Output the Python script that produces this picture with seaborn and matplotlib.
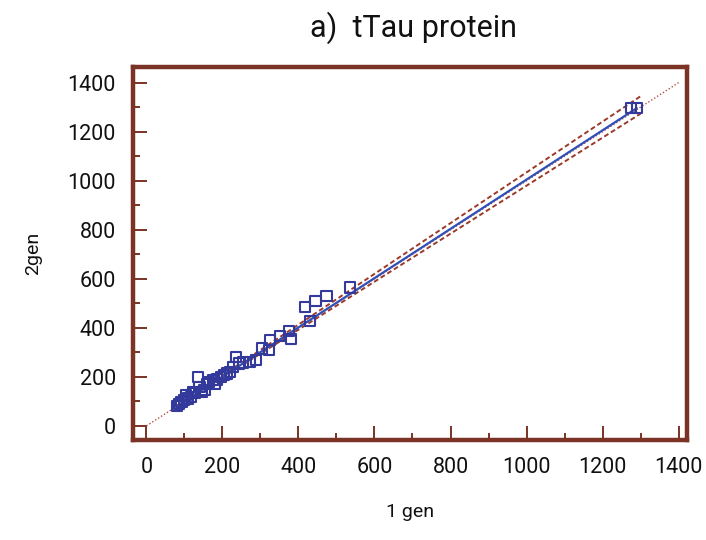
import numpy as np
import pandas as pd
import matplotlib
matplotlib.use("Agg")
import matplotlib.pyplot as plt
from matplotlib.ticker import MultipleLocator
import seaborn as sns

# ---- data ----
gen1 = [80, 85, 92, 98, 105, 110, 118, 123, 127, 136, 140, 145, 153, 160, 165,
        175, 180, 186, 197, 205, 212, 219, 228, 235, 244, 255, 272, 289, 305,
        323, 326, 351, 375, 381, 417, 430, 445, 474, 535, 1274, 1290]
gen2 = [82, 88, 98, 105, 125, 112, 118, 139, 135, 200, 159, 139, 146, 170, 180,
        187, 173, 189, 200, 207, 214, 220, 241, 282, 255, 258, 261, 268, 316,
        309, 350, 366, 388, 354, 486, 427, 510, 529, 565, 1296, 1296]

# fitted lines: name, intercept, slope, x start, x end
line_names = ["fit", "upper", "lower", "identity"]
line_intercepts = [-0.4, -1.0, 0.8, 0.0]
line_slopes = [1.005, 1.035, 0.979, 1.0]
line_x0 = [80, 80, 80, 0]
line_x1 = [1290, 1300, 1300, 1400]

x_ticks = [0, 200, 400, 600, 800, 1000, 1200, 1400]
y_ticks = [0, 200, 400, 600, 800, 1000, 1200, 1400]

# ---- figure ----
sns.set_theme(style="white")
plt.rcParams["font.family"] = ["Roboto", "DejaVu Sans"]

fig = plt.figure(figsize=(7.06, 5.40), dpi=100)
ax = fig.add_axes([0.188, 0.185, 0.785, 0.691])

brown = "#7a3324"
navy = "#343a9c"

pts = pd.DataFrame({"1 gen": gen1, "2gen": gen2})

rows = []
for n, b0, b1, a, z in zip(line_names, line_intercepts, line_slopes, line_x0, line_x1):
    for xv in (a, z):
        rows.append({"line": n, "x": xv, "y": b0 + b1 * xv})
lines = pd.DataFrame(rows)

styles = {
    "identity": dict(color="#b0503a", lw=1.0, ls=(0, (1, 1.5))),
    "upper": dict(color="#9c3a28", lw=1.4, ls=(0, (2.5, 1.5))),
    "lower": dict(color="#9c3a28", lw=1.4, ls=(0, (2.5, 1.5))),
    "fit": dict(color="#3050b8", lw=1.6, ls="-"),
}
for n in ["identity", "upper", "lower", "fit"]:
    d = lines[lines["line"] == n]
    st = styles[n]
    sns.lineplot(data=d, x="x", y="y", ax=ax, color=st["color"], lw=st["lw"],
                 linestyle=st["ls"], sort=False, legend=False, zorder=2)

sns.scatterplot(data=pts, x="1 gen", y="2gen", ax=ax, marker="s", s=55,
                facecolor="none", edgecolor=navy, linewidth=1.5, zorder=3)

ax.set_xlim(-36, 1422)
ax.set_ylim(-58, 1464)
ax.set_xticks(x_ticks)
ax.set_yticks(y_ticks)
ax.set_xticklabels([str(v) for v in x_ticks])
ax.set_yticklabels([str(v) for v in y_ticks])
ax.xaxis.set_minor_locator(MultipleLocator(100))
ax.yaxis.set_minor_locator(MultipleLocator(100))

ax.tick_params(axis="both", which="major", direction="in", length=10, width=1.4,
               color=brown, labelsize=15.5, labelcolor="#111111",
               bottom=True, left=True, top=False, right=False)
ax.tick_params(axis="both", which="minor", direction="in", length=5, width=1.4,
               color=brown, bottom=True, left=True, top=False, right=False)
ax.tick_params(axis="x", which="major", pad=12)
ax.tick_params(axis="y", which="major", pad=12)

for sp in ax.spines.values():
    sp.set_visible(True)
    sp.set_color(brown)
    sp.set_linewidth(3.2)

ax.set_xlabel("1 gen", fontsize=14, color="#111111", labelpad=18)
ax.set_ylabel("2gen", fontsize=14, color="#111111", labelpad=18)
fig.text(0.585, 0.948, "a)  tTau protein", ha="center", va="center",
         fontsize=22, color="#111111")

fig.savefig("out.png", dpi=100)
